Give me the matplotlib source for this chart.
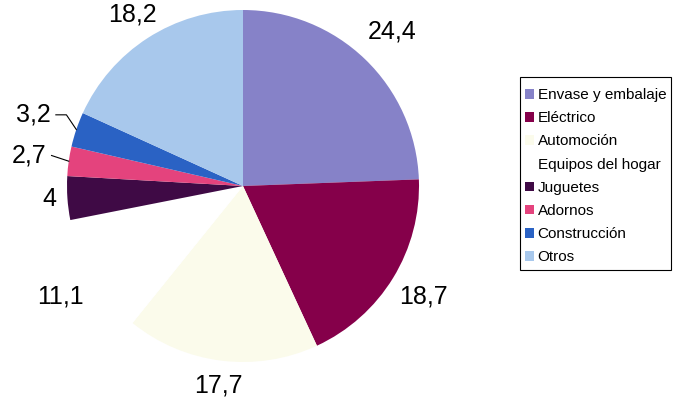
import matplotlib

matplotlib.use("Agg")
import matplotlib.pyplot as plt
import numpy as np
from matplotlib.patches import Patch, Rectangle

plt.rcParams["font.family"] = ["Liberation Sans", "DejaVu Sans"]

categories = [
    "Envase y embalaje",
    "Eléctrico",
    "Automoción",
    "Equipos del hogar",
    "Juguetes",
    "Adornos",
    "Construcción",
    "Otros",
]
values = [24.4, 18.7, 17.7, 11.1, 4.0, 2.7, 3.2, 18.2]
value_labels = ["24,4", "18,7", "17,7", "11,1", "4", "2,7", "3,2", "18,2"]

colors = ["#8682c8", "#85004a", "#fbfbeb", "#ffffff",
          "#3f0a45", "#e4437d", "#2a62c4", "#a8c8ec"]
# radial distance of each value label (pie radius = 1)
label_dist = [1.22, 1.20, 1.14, 1.21, 1.10, 1.23, 1.26, 1.16]

W, H = 676, 407
fig = plt.figure(figsize=(W / 100, H / 100), dpi=100)
cx, cy, r = 243, 186, 176
ax = fig.add_axes([(cx - r) / W, (H - cy - r) / H, 2 * r / W, 2 * r / H])

wedges, _ = ax.pie(
    values,
    colors=colors,
    startangle=90,
    counterclock=False,
    radius=1.0,
    wedgeprops={"linewidth": 0, "edgecolor": "none"},
)

for w, lab, d in zip(wedges, value_labels, label_dist):
    mid = np.deg2rad((w.theta1 + w.theta2) / 2)
    x, y = d * np.cos(mid), d * np.sin(mid)
    ax.text(x, y, lab, ha="center", va="center", fontsize=18, color="black", clip_on=False)

# leader lines for the two thinnest wedges
for idx, elbow in ((5, 0.0), (6, 0.06)):
    w = wedges[idx]
    mid = np.deg2rad((w.theta1 + w.theta2) / 2)
    lx, ly = label_dist[idx] * np.cos(mid), label_dist[idx] * np.sin(mid)
    ex, ey = np.cos(mid), np.sin(mid)
    sx = lx + 0.13
    ax.plot([sx, sx + elbow, ex], [ly, ly, ey], color="black", lw=0.8, clip_on=False)

ax.set_xlim(-1, 1)
ax.set_ylim(-1, 1)
ax.set_aspect("equal")
ax.axis("off")

# legend box drawn separately so the padding can differ from the entry layout
fig.patches.append(Rectangle((520 / W, 1 - 270 / H), 151 / W, 193 / H,
                             transform=fig.transFigure, facecolor="white",
                             edgecolor="black", linewidth=0.8, zorder=0))

handles = [Patch(facecolor=c, edgecolor="none") for c in colors]
leg = fig.legend(
    handles,
    categories,
    loc="upper left",
    bbox_to_anchor=(520 / W, 1 - 83.5 / H),
    fontsize=11,
    frameon=False,
    handlelength=0.6,
    handleheight=0.6,
    handletextpad=0.25,
    labelspacing=0.6,
    borderpad=0.3,
    borderaxespad=0,
)

fig.savefig("out.png", dpi=100)
